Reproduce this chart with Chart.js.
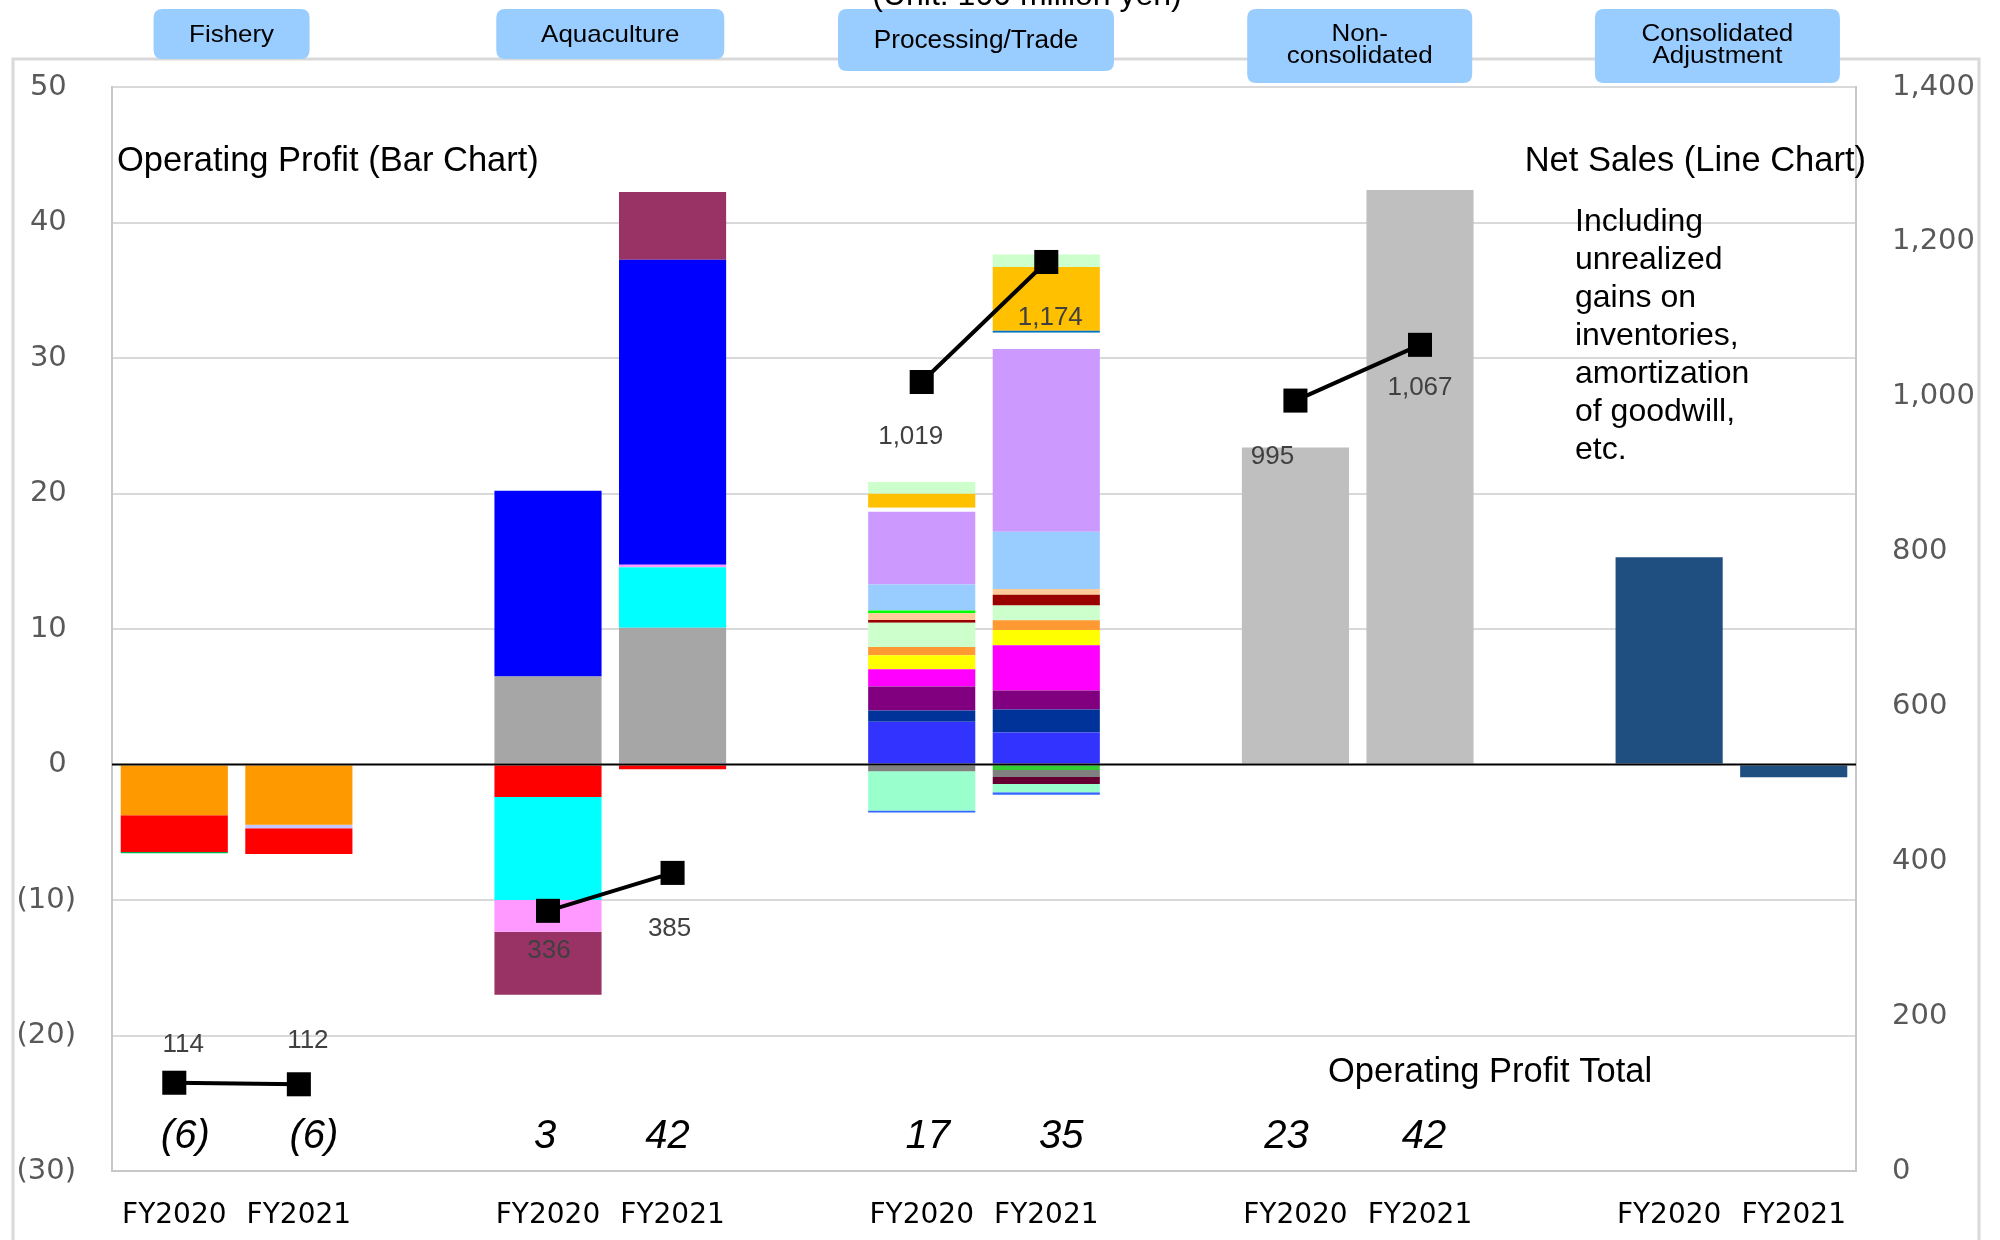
<!DOCTYPE html>
<html>
<head>
<meta charset="utf-8">
<title>Operating Profit and Net Sales by Segment</title>
<script src="https://cdn.jsdelivr.net/npm/chart.js@4/dist/chart.umd.min.js"></script>
<style>
  html, body { margin: 0; padding: 0; background: #ffffff; }
  #wrap { width: 2000px; height: 1240px; position: relative; }
  canvas { display: block; }
</style>
</head>
<body>
<div id="wrap"><canvas id="chart" width="2000" height="1240"></canvas></div>
<script>
// Category slots: five segments of two fiscal years, blank spacer slots between segments
const yearLabels = ['FY2020', 'FY2021', '', 'FY2020', 'FY2021', '', 'FY2020', 'FY2021', '',
                    'FY2020', 'FY2021', '', 'FY2020', 'FY2021'];
const segmentNames = ['Fishery', 'Aquaculture', 'Processing/Trade', 'Non-\nconsolidated', 'Consolidated\nAdjustment'];
const segmentStart = [0, 3, 6, 9, 12];

// Net sales, right axis (100 million yen)
const netSales = [114, 112, null, 336, 385, null, 1019, 1174, null, 995, 1067, null, null, null];
// Operating profit totals printed along the bottom
const opProfitTotal = [-6, -6, null, 3, 42, null, 17, 35, null, 23, 42, null, null, null];

// Operating profit by subsidiary, [FY2020, FY2021]
// Fishery
const fishOrange = [-3.75, -4.45];
const fishLine   = [null, -0.25];
const fishRed    = [-2.7, -1.9];
const fishGreen  = [-0.1, null];
// Aquaculture
const aquaGray   = [6.5, 10.1];
const aquaRed    = [-2.4, -0.35];
const aquaCyan   = [-7.6, 4.45];
const aquaPink   = [-2.35, 0.2];
const aquaBlue   = [13.7, 22.5];
const aquaMaroon = [-4.65, 5.0];
// Processing/Trade
const procBlue     = [3.16, 2.36];
const procNavy     = [0.82, 1.70];
const procPurple   = [1.78, 1.40];
const procMagenta  = [1.27, 3.34];
const procYellow   = [1.04, 1.13];
const procOrange   = [0.60, 0.71];
const procMint     = [1.80, 1.10];
const procDarkRed  = [0.20, 0.79];
const procPeach    = [0.50, 0.42];
const procGreen    = [0.20, null];
const procSky      = [1.92, 4.23];
const procLavender = [5.37, 13.49];
const procWhite    = [0.28, 1.20];
const procBlueLine = [null, 0.14];
const procAmber    = [1.05, 4.70];
const procPale     = [0.85, 0.93];
const procLime     = [null, -0.40];
const procGray     = [-0.50, -0.53];
const procMaroon   = [null, -0.51];
const procAqua     = [-2.90, -0.60];
const procEdge     = [-0.15, -0.20];
// Non-consolidated
const nonConsolidated = [23.4, 42.4];
// Consolidated adjustment
const consolidatedAdj = [15.3, -0.95];

// Stack layers, listed from the zero line outward
const layers = [
  [0, fishOrange, '#ff9900'], [0, fishLine, '#c6c6ff'], [0, fishRed, '#ff0000'], [0, fishGreen, '#00b050'],
  [1, aquaGray, '#a6a6a6'], [1, aquaRed, '#ff0000'], [1, aquaCyan, '#00ffff'], [1, aquaPink, '#ff99ff'],
  [1, aquaBlue, '#0000ff'], [1, aquaMaroon, '#993366'],
  [2, procBlue, '#3333ff'], [2, procNavy, '#003399'], [2, procPurple, '#800080'], [2, procMagenta, '#ff00ff'],
  [2, procYellow, '#ffff00'], [2, procOrange, '#ff9933'], [2, procMint, '#ccffcc'], [2, procDarkRed, '#990000'],
  [2, procPeach, '#ffcc99'], [2, procGreen, '#00ff00'], [2, procSky, '#99ccff'], [2, procLavender, '#cc99ff'],
  [2, procWhite, '#ffffff'], [2, procBlueLine, '#0070c0'], [2, procAmber, '#ffc000'], [2, procPale, '#ccffcc'],
  [2, procLime, '#33cc33'], [2, procGray, '#808080'], [2, procMaroon, '#660033'], [2, procAqua, '#99ffcc'],
  [2, procEdge, '#3366ff'],
  [3, nonConsolidated, '#bfbfbf'],
  [4, consolidatedAdj, '#1f4e80']
];

function spread(group, pair) {
  const out = new Array(yearLabels.length).fill(null);
  out[segmentStart[group]] = pair[0];
  out[segmentStart[group] + 1] = pair[1];
  return out;
}

const barDatasets = layers.map(([group, values, color]) => ({
  type: 'bar',
  data: spread(group, values),
  backgroundColor: color,
  borderWidth: 0,
  stack: 'op',
  yAxisID: 'y',
  order: 1,
  barPercentage: 0.86,
  categoryPercentage: 1.0
}));

const salesDataset = {
  type: 'line',
  data: netSales,
  yAxisID: 'y1',
  borderColor: '#000000',
  borderWidth: 4,
  pointStyle: 'rect',
  pointRadius: 17,
  pointHoverRadius: 17,
  pointBackgroundColor: '#000000',
  pointBorderWidth: 0,
  spanGaps: false,
  tension: 0,
  order: 0
};

// Label nudges for the net sales values (px from each point)
const salesLabelShift = [[9, -38], [9, -43], null, [1, 40], [-3, 56], null, [-11, 55], [4, 56], null,
                         [-23, 56], [0, 43], null, null, null];
// Horizontal nudges for the total figures
const totalShift = [11, 15, 0, -3, -5, 0, 6, 15, 0, -9, 4, 0, 0, 0];
// Header box geometry: width, height, horizontal nudge
const headerBoxes = [[156, 50, -5], [228, 50, 0], [276, 62, -8], [225, 74, 2], [245, 74, -14]];

const SANS = '"Liberation Sans", Arial, sans-serif';
const TICK = '"DejaVu Sans", Verdana, sans-serif';

function roundRect(ctx, x, y, w, h, r) {
  ctx.beginPath();
  ctx.moveTo(x + r, y);
  ctx.lineTo(x + w - r, y);
  ctx.quadraticCurveTo(x + w, y, x + w, y + r);
  ctx.lineTo(x + w, y + h - r);
  ctx.quadraticCurveTo(x + w, y + h, x + w - r, y + h);
  ctx.lineTo(x + r, y + h);
  ctx.quadraticCurveTo(x, y + h, x, y + h - r);
  ctx.lineTo(x, y + r);
  ctx.quadraticCurveTo(x, y, x + r, y);
  ctx.closePath();
}

// text drawn slightly widened, as in the segment header boxes
function wideText(ctx, text, cx, cy, stretch) {
  ctx.save();
  ctx.translate(cx, cy);
  ctx.scale(stretch, 1);
  ctx.fillText(text, 0, 0);
  ctx.restore();
}

const decorations = {
  id: 'decorations',
  beforeDraw(chart) {
    const ctx = chart.ctx;
    ctx.save();
    ctx.fillStyle = '#ffffff';
    ctx.fillRect(0, 0, chart.width, chart.height);
    ctx.strokeStyle = '#d9d9d9';
    ctx.lineWidth = 3;
    ctx.strokeRect(13, 59, 1966, 1250);
    ctx.restore();
  },
  afterDatasetsDraw(chart) {
    const { ctx, chartArea, scales } = chart;
    const x = scales.x, y = scales.y;
    ctx.save();

    // zero line across the plot
    const y0 = y.getPixelForValue(0);
    ctx.strokeStyle = '#000000';
    ctx.lineWidth = 2;
    ctx.beginPath();
    ctx.moveTo(chartArea.left, y0);
    ctx.lineTo(chartArea.right, y0);
    ctx.stroke();

    // net sales value labels
    const meta = chart.getDatasetMeta(chart.data.datasets.length - 1);
    ctx.font = '26px ' + SANS;
    ctx.fillStyle = '#404040';
    ctx.textAlign = 'center';
    ctx.textBaseline = 'middle';
    netSales.forEach((v, i) => {
      if (v == null) return;
      const pt = meta.data[i];
      const s = salesLabelShift[i] || [0, 50];
      ctx.fillText(v.toLocaleString('en-US'), pt.x + s[0], pt.y + s[1]);
    });

    // operating profit totals
    ctx.font = 'italic 40px ' + SANS;
    ctx.fillStyle = '#000000';
    ctx.textBaseline = 'alphabetic';
    opProfitTotal.forEach((v, i) => {
      if (v == null) return;
      const txt = v < 0 ? '(' + (-v) + ')' : String(v);
      ctx.fillText(txt, x.getPixelForValue(i) + totalShift[i], 1148);
    });

    // chart annotations
    ctx.font = '34.5px ' + SANS;
    ctx.textAlign = 'left';
    ctx.fillText('Operating Profit (Bar Chart)', 117, 171);
    ctx.fillText('Operating Profit Total', 1328, 1082);
    ctx.textAlign = 'right';
    ctx.fillText('Net Sales (Line Chart)', 1866, 171);
    ctx.textAlign = 'left';
    ctx.font = '32px ' + SANS;
    ['Including', 'unrealized', 'gains on', 'inventories,', 'amortization', 'of goodwill,', 'etc.']
      .forEach((line, k) => ctx.fillText(line, 1575, 231 + 38 * k));

    // segment header boxes
    segmentNames.forEach((name, g) => {
      const [w, h, dx] = headerBoxes[g];
      const cx = (x.getPixelForValue(segmentStart[g]) + x.getPixelForValue(segmentStart[g] + 1)) / 2 + dx;
      const top = 9;
      ctx.fillStyle = '#99ccff';
      roundRect(ctx, cx - w / 2, top, w, h, 9);
      ctx.fill();
      ctx.fillStyle = '#000000';
      ctx.textAlign = 'center';
      ctx.textBaseline = 'middle';
      const lines = name.split('\n');
      if (lines.length === 1) {
        ctx.font = (g === 2 ? '25px ' : '24px ') + SANS;
        wideText(ctx, name, cx, top + h / 2 + 1, g === 2 ? 1.05 : 1.08);
      } else {
        ctx.font = '23px ' + SANS;
        const lh = 22;
        lines.forEach((ln, k) =>
          wideText(ctx, ln, cx, top + h / 2 + (k - (lines.length - 1) / 2) * lh, 1.13));
      }
    });

    // unit note at the top edge
    ctx.font = '32px ' + SANS;
    ctx.fillStyle = '#000000';
    ctx.textAlign = 'center';
    ctx.textBaseline = 'alphabetic';
    ctx.fillText('(Unit: 100 million yen)', 1027, 5);

    ctx.restore();
  }
};

new Chart(document.getElementById('chart'), {
  data: {
    labels: yearLabels,
    datasets: [...barDatasets, salesDataset]
  },
  options: {
    responsive: false,
    maintainAspectRatio: false,
    animation: false,
    layout: { padding: { top: 87, left: 0, right: 0, bottom: 0 } },
    plugins: {
      legend: { display: false },
      tooltip: { enabled: false }
    },
    scales: {
      x: {
        type: 'category',
        offset: true,
        stacked: true,
        grid: { display: false },
        border: { display: true, color: '#c8c8c8', width: 2 },
        ticks: {
          autoSkip: false,
          maxRotation: 0,
          padding: 20,
          color: '#000000',
          font: { family: TICK, size: 28 }
        },
        afterFit(scale) { scale.height = 69; }
      },
      y: {
        position: 'left',
        stacked: true,
        min: -30,
        max: 50,
        grid: {
          drawTicks: false,
          lineWidth: 2,
          color: (c) => (c.tick && c.tick.value === 0) ? 'rgba(0,0,0,0)' : '#d9d9d9'
        },
        border: { display: true, color: '#c8c8c8', width: 2 },
        ticks: {
          stepSize: 10,
          padding: 36,
          color: '#595959',
          font: { family: TICK, size: 29 },
          callback: (v) => v < 0 ? '(' + (-v) + ')' : v + ' '
        },
        afterFit(scale) { scale.width = 112; }
      },
      y1: {
        position: 'right',
        min: 0,
        max: 1400,
        grid: { display: false, drawTicks: false },
        border: { display: true, color: '#c8c8c8', width: 2 },
        ticks: {
          stepSize: 200,
          padding: 36,
          color: '#595959',
          font: { family: TICK, size: 29 },
          callback: (v) => Number(v).toLocaleString('en-US')
        },
        afterFit(scale) { scale.width = 144; }
      }
    }
  },
  plugins: [decorations]
});
</script>
</body>
</html>
